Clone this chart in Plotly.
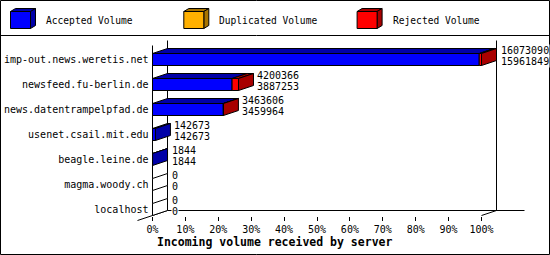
import plotly.graph_objects as go

# ---------------- data ----------------
categories = [
    "imp-out.news.weretis.net",
    "newsfeed.fu-berlin.de",
    "news.datentrampelpfad.de",
    "usenet.csail.mit.edu",
    "beagle.leine.de",
    "magma.woody.ch",
    "localhost",
]
total_volume = [16073090, 4200366, 3463606, 142673, 1844, 0, 0]
accepted_volume = [15961849, 3887253, 3459964, 142673, 1844, 0, 0]
duplicated_volume = [0, 0, 0, 0, 0, 0, 0]
rejected_volume = [t - a - d for t, a, d in zip(total_volume, accepted_volume, duplicated_volume)]

x_tick_values = [0, 10, 20, 30, 40, 50, 60, 70, 80, 90, 100]
x_tick_labels = [f"{v}%" for v in x_tick_values]
legend_labels = ["Accepted Volume", "Duplicated Volume", "Rejected Volume"]
x_title = "Incoming volume received by server"

# ---------------- style ----------------
front_colors = ["#0000ff", "#ffb000", "#ff0000"]
dark_colors = ["#0000a8", "#a87400", "#a80000"]
FONT = "DejaVu Sans Mono"
W, H = 550, 255

X0_PX = 152.5        # pixel of 0 %
PX_PER_PCT = 3.29    # pixels per percent
ROW0_PX = 59.5       # pixel of first row centre
ROW_PX = 25.0        # pixels per row


def px2x(px):
    return (px - X0_PX) / PX_PER_PCT


def px2y(py):
    return (py - ROW0_PX) / ROW_PX


def dxp(d):
    return d / PX_PER_PCT


def dyp(d):
    return d / ROW_PX


DEPTH_X = dxp(15)
DEPTH_Y = dyp(-5)
HALF_H = dyp(6)

fig = go.Figure()


def poly(xs, ys, fill):
    fig.add_trace(go.Scatter(
        x=list(xs) + [xs[0]], y=list(ys) + [ys[0]], mode="lines", fill="toself",
        fillcolor=fill, line=dict(color="black", width=1),
        hoverinfo="skip", showlegend=False))


max_total = max(total_volume)
annotations = []
for i, cat in enumerate(categories):
    yt = i - HALF_H
    yb = i + HALF_H
    segs = [accepted_volume[i], duplicated_volume[i], rejected_volume[i]]
    start = 0.0
    side_col = "white"
    fronts = []
    for k, v in enumerate(segs):
        if v > 0:
            end = start + v * 100.0 / max_total
            # top face
            poly([start, end, end + DEPTH_X, start + DEPTH_X],
                 [yt, yt, yt + DEPTH_Y, yt + DEPTH_Y], dark_colors[k])
            fronts.append((start, end, front_colors[k]))
            side_col = dark_colors[k]
            start = end
    # side face
    poly([start, start + DEPTH_X, start + DEPTH_X, start],
         [yt, yt + DEPTH_Y, yb + DEPTH_Y, yb], side_col)
    for (s, e, c) in fronts:
        poly([s, e, e, s], [yt, yt, yb, yb], c)
    # value labels
    lx = start + dxp(18)
    for txt, yy in ((f"{total_volume[i]}", i + dyp(-9)), (f"{accepted_volume[i]}", i + dyp(1.5))):
        annotations.append(dict(x=lx, y=yy, xref="x", yref="y", text=txt, showarrow=False,
                                xanchor="left", yanchor="middle", bgcolor="white", borderpad=0,
                                font=dict(family=FONT, size=10, color="black")))

# ---------------- walls / floor ----------------
n = len(categories)
floor_front = (n - 1) + HALF_H
floor_back = floor_front + DEPTH_Y
top_front = -HALF_H - dyp(8)
top_back = top_front + DEPTH_Y
line = dict(color="black", width=1)
shapes = [
    dict(type="line", xref="x", yref="y", x0=DEPTH_X, x1=DEPTH_X, y0=floor_back, y1=top_back, line=line, layer="below"),
    dict(type="line", xref="x", yref="y", x0=100 + DEPTH_X, x1=100 + DEPTH_X, y0=floor_back, y1=top_back, line=line, layer="below"),
    dict(type="line", xref="x", yref="y", x0=0, x1=0, y0=floor_front, y1=top_front, line=line, layer="below"),
    dict(type="line", xref="x", yref="y", x0=DEPTH_X, x1=100 + DEPTH_X + dxp(28), y0=floor_back, y1=floor_back, line=line, layer="below"),
    dict(type="line", xref="x", yref="y", x0=-DEPTH_X, x1=DEPTH_X, y0=floor_front - DEPTH_Y, y1=floor_back, line=line, layer="below"),
    dict(type="line", xref="x", yref="y", x0=100, x1=100 + DEPTH_X, y0=floor_front, y1=floor_back, line=line, layer="below"),
]

# ---------------- legend (3D cubes) ----------------
SEP_PX = 35.5
shapes.append(dict(type="line", xref="x", yref="y", x0=px2x(0), x1=px2x(W), y0=px2y(SEP_PX), y1=px2y(SEP_PX), line=line))
for k, lab in enumerate(legend_labels):
    bx = 10.5 + k * 173.3
    ty, by = 11.5, 28.5
    fw, ddx, ddy = 20, 5, -3

    def P(pts):
        return "M " + " L ".join(f"{px2x(a)},{px2y(b)}" for a, b in pts) + " Z"
    shapes.append(dict(type="path", xref="x", yref="y", fillcolor=dark_colors[k], line=line,
                       path=P([(bx, ty), (bx + fw, ty), (bx + fw + ddx, ty + ddy), (bx + ddx, ty + ddy)])))
    shapes.append(dict(type="path", xref="x", yref="y", fillcolor=dark_colors[k], line=line,
                       path=P([(bx + fw, ty), (bx + fw + ddx, ty + ddy), (bx + fw + ddx, by + ddy), (bx + fw, by)])))
    shapes.append(dict(type="path", xref="x", yref="y", fillcolor=front_colors[k], line=line,
                       path=P([(bx, ty), (bx + fw, ty), (bx + fw, by), (bx, by)])))
    annotations.append(dict(x=px2x(bx + 33.5), y=px2y(20), xref="x", yref="y", text=lab, showarrow=False,
                            xanchor="left", yanchor="middle",
                            font=dict(family=FONT, size=9.6, color="black")))

# border
shapes.append(dict(type="rect", xref="paper", yref="paper", x0=0.5 / W, x1=1 - 0.5 / W,
                   y0=0.5 / H, y1=1 - 0.5 / H, line=line))

# axis title
annotations.append(dict(x=px2x(274), y=px2y(242), xref="x", yref="y", text=f"<b>{x_title}</b>",
                        showarrow=False, xanchor="center", yanchor="middle",
                        font=dict(family=FONT, size=11.5, color="black")))

fig.update_layout(
    width=W, height=H, margin=dict(l=0, r=0, t=0, b=0),
    paper_bgcolor="white", plot_bgcolor="rgba(0,0,0,0)",
    showlegend=False, shapes=shapes, annotations=annotations,
    xaxis=dict(range=[px2x(0), px2x(W)], anchor="free", position=1 - (floor_front * ROW_PX + ROW0_PX) / H,
               showgrid=False, zeroline=False, showline=False, automargin=False,
               ticks="outside", ticklen=4, tickwidth=1, tickcolor="black",
               tickvals=x_tick_values, ticktext=x_tick_labels,
               tickfont=dict(family=FONT, size=10, color="black")),
    yaxis=dict(range=[px2y(H), px2y(0)], anchor="free", position=X0_PX / W,
               showgrid=False, zeroline=False, showline=False, automargin=False,
               ticks="", tickvals=list(range(n)), ticktext=categories, ticklabelstandoff=4,
               tickfont=dict(family=FONT, size=10, color="black")),
)

fig.write_html("out.html")
